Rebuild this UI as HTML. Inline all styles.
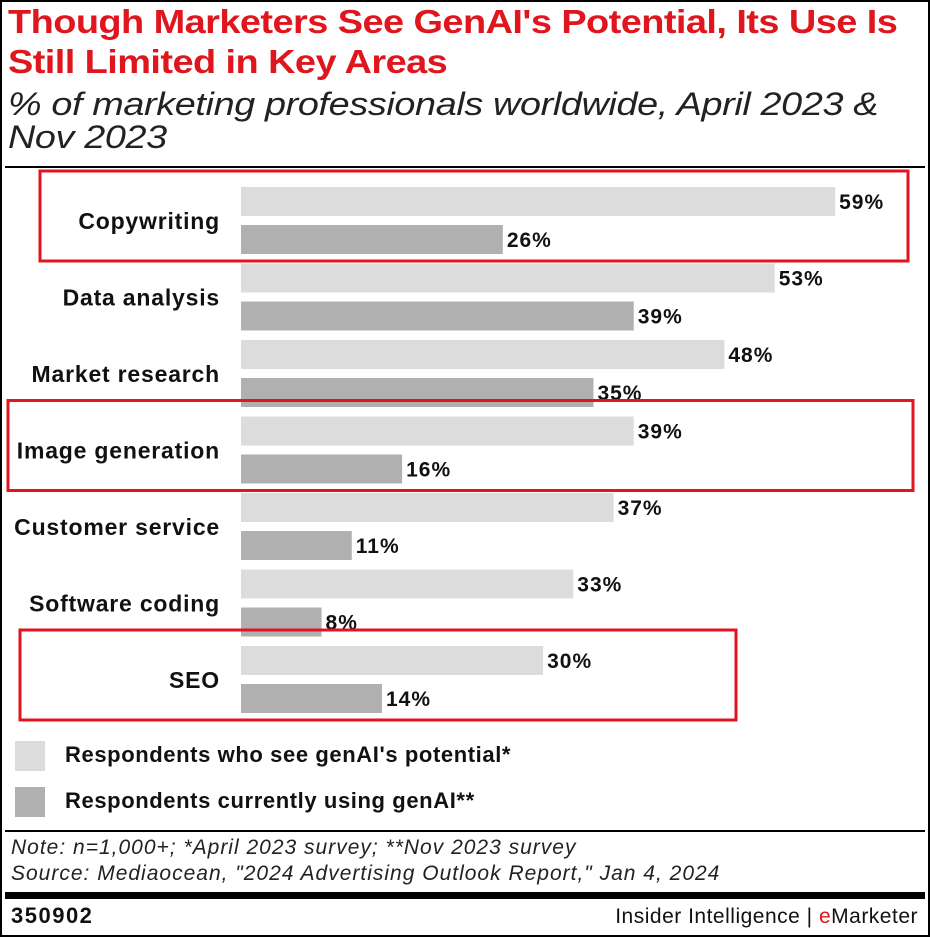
<!DOCTYPE html>
<html><head><meta charset="utf-8"><style>
body{margin:0;background:#fff;font-family:"Liberation Sans",sans-serif}
#wrap{position:relative;width:930px;height:937px;overflow:hidden;background:#fff}
.t{position:absolute;white-space:nowrap}
</style></head><body>
<div id="wrap">
<div style="position:absolute;left:0;top:0;width:926px;height:933px;border:2px solid #000"></div>
<div class="t" style="left:8px;top:2px;font-size:33px;font-weight:bold;color:#e0161e;line-height:40px;letter-spacing:-0.5px;transform:scaleX(1.15);transform-origin:0 0">Though Marketers See GenAI's Potential, Its Use Is<br>Still Limited in Key Areas</div>
<div class="t" style="left:8px;top:88px;font-size:32px;font-style:italic;color:#222;line-height:33px;letter-spacing:-0.3px;transform:scaleX(1.18);transform-origin:0 0">% of marketing professionals worldwide, April 2023 &amp;<br>Nov 2023</div>
<div style="position:absolute;left:5px;top:166px;width:920px;height:2px;background:#000"></div>
<svg id="chart" width="930" height="937" style="position:absolute;left:0;top:0"></svg>
<div style="position:absolute;left:15px;top:741px;width:30px;height:30px;background:#dcdcdc"></div>
<div class="t" style="left:65px;top:742px;font-size:22px;letter-spacing:0.6px;font-weight:bold;color:#111">Respondents who see genAI's potential*</div>
<div style="position:absolute;left:15px;top:787px;width:30px;height:30px;background:#b1b0b0"></div>
<div class="t" style="left:65px;top:788px;font-size:22px;letter-spacing:0.6px;font-weight:bold;color:#111">Respondents currently using genAI**</div>
<div style="position:absolute;left:5px;top:830px;width:920px;height:2px;background:#000"></div>
<div class="t" style="left:11px;top:835px;font-size:21px;letter-spacing:1px;font-style:italic;color:#222;line-height:26px">Note: n=1,000+; *April 2023 survey; **Nov 2023 survey<br>Source: Mediaocean, "2024 Advertising Outlook Report," Jan 4, 2024</div>
<div style="position:absolute;left:5px;top:892px;width:920px;height:7px;background:#000"></div>
<div class="t" style="left:11px;top:903px;font-size:22px;letter-spacing:1.5px;font-weight:bold;color:#111">350902</div>
<div class="t" style="right:12px;top:905px;font-size:21px;letter-spacing:0.5px;color:#111">Insider Intelligence | <span style="color:#e0161e">e</span>Marketer</div>
</div>
<script>
const categories=["Copywriting","Data analysis","Market research","Image generation","Customer service","Software coding","SEO"];
const potential=[59,53,48,39,37,33,30];
const using=[26,39,35,16,11,8,14];
const highlighted=["Copywriting","Image generation","SEO"];
const svg=document.getElementById('chart');
const NS='http://www.w3.org/2000/svg';
const x0=241, pxPer=10.07, rowTop=187, pitch=76.5, bh=29, gap=38;
function xs(v){return v*pxPer;}
function mk(tag,attrs){const e=document.createElementNS(NS,tag);for(const k in attrs)e.setAttribute(k,attrs[k]);svg.appendChild(e);return e;}
const boxes={"Copywriting":[40,908],"Image generation":[8,913],"SEO":[20,736]};
categories.forEach((c,i)=>{
  const y=rowTop+i*pitch;
  const b1=mk('rect',{x:x0,y:y,width:xs(potential[i]),height:bh,fill:'#dcdcdc'});
  
  
  const b2=mk('rect',{x:x0,y:y+gap,width:xs(using[i]),height:bh,fill:'#b1b0b0'});
  
  
  const l1=mk('text',{x:x0+xs(potential[i])+4,y:y+22,'font-size':21,'letter-spacing':1,'font-weight':'bold',fill:'#111','font-family':'Liberation Sans, sans-serif'});
  l1.textContent=potential[i]+'%';
  
  
  const l2=mk('text',{x:x0+xs(using[i])+4,y:y+gap+22,'font-size':21,'letter-spacing':1,'font-weight':'bold',fill:'#111','font-family':'Liberation Sans, sans-serif'});
  l2.textContent=using[i]+'%';
  
  
  const cl=mk('text',{x:220,y:y+42,'font-size':23,'letter-spacing':0.8,'font-weight':'bold',fill:'#111','text-anchor':'end','font-family':'Liberation Sans, sans-serif'});
  cl.textContent=c;
  
  
  if(highlighted.includes(c)){
    const bx=boxes[c];
    const r=mk('rect',{x:bx[0],y:y-16,width:bx[1]-bx[0],height:90,fill:'none',stroke:'#e0161e','stroke-width':3});
    
    
  }
});
</script>
</body></html>
